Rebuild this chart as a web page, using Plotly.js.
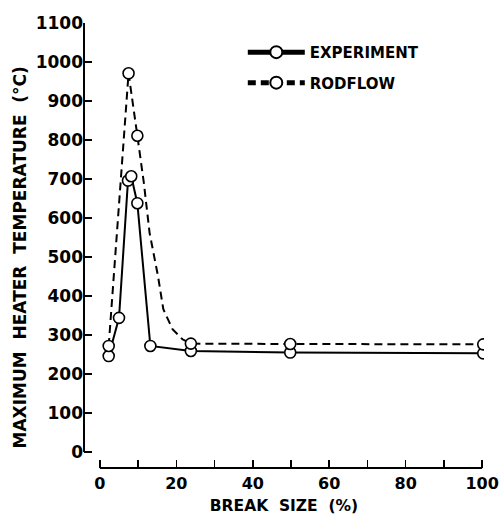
<!DOCTYPE html>
<html>
<head>
<meta charset="utf-8">
<script src="https://cdn.plot.ly/plotly-3.0.1.min.js"></script>
<style>html,body{margin:0;padding:0;background:#fff;}#chart{width:499px;height:515px;}</style>
</head>
<body>
<div id="chart"></div>
<script>
// Experiment: break size (%) vs maximum heater temperature (°C)
var expBreak = [2.3, 5.0, 7.35, 8.2, 9.8, 13.2, 23.8, 49.8, 100.3];
var expTemp  = [246, 344, 696, 707, 638, 272, 259, 255, 253];

// RODFLOW calculation: plotted (circled) points
var rodBreak = [2.3, 7.5, 9.8, 23.8, 49.8, 100.3];
var rodTemp  = [272, 971, 811, 278, 277, 276];

// RODFLOW dashed curve between circled points
var rodCurveBreak = [11.5, 13.0, 15.2, 16.6, 19.0, 21.6];
var rodCurveTemp  = [690, 562, 451, 366, 315, 289];

var xTickVals = [0, 10, 20, 30, 40, 50, 60, 70, 80, 90, 100];
var xTickText = ['0', '', '20', '', '40', '', '60', '', '80', '', '100'];
var yTickVals = [0, 100, 200, 300, 400, 500, 600, 700, 800, 900, 1000, 1100];
var yTickText = ['0', '100', '200', '300', '400', '500', '600', '700', '800', '900', '1000', '1100'];

// merge RODFLOW circle points with curve points (markers only on circles)
var rodPts = [];
rodBreak.forEach(function (x, i) { rodPts.push({x: x, y: rodTemp[i], m: 11}); });
rodCurveBreak.forEach(function (x, i) { rodPts.push({x: x, y: rodCurveTemp[i], m: 0}); });
rodPts.sort(function (a, b) { return a.x - b.x; });

var FONT = 'DejaVu Sans, Arial, sans-serif';
var NB = '\u00a0';

var traces = [
  {
    x: expBreak, y: expTemp, name: 'EXPERIMENT', mode: 'lines+markers',
    legendgroup: 'a',
    line: {color: '#000', width: 2},
    marker: {symbol: 'circle', size: 11, color: '#fff', opacity: 1, line: {color: '#000', width: 1.6}}
  },
  {
    x: rodPts.map(function (p) { return p.x; }),
    y: rodPts.map(function (p) { return p.y; }),
    name: 'RODFLOW', mode: 'lines+markers',
    legendgroup: 'b',
    line: {color: '#000', width: 2, dash: '8px,5px'},
    marker: {symbol: 'circle', size: rodPts.map(function (p) { return p.m; }), color: '#fff', opacity: 1,
             line: {color: '#000', width: 1.6}}
  }
];

var layout = {
  width: 499, height: 515,
  margin: {l: 84, r: 15, t: 23, b: 47},
  paper_bgcolor: '#fff', plot_bgcolor: '#fff',
  font: {family: FONT, color: '#000'},
  showlegend: true,
  legend: {
    x: 0.397, y: 0.971, xanchor: 'left', yanchor: 'top',
    font: {family: FONT, size: 15, weight: 'bold', color: '#000'},
    bgcolor: 'rgba(0,0,0,0)', itemsizing: 'constant', itemwidth: 57,
    traceorder: 'grouped', tracegroupgap: 8
  },
  xaxis: {
    range: [-4.16, 100.5], tickmode: 'array', tickvals: xTickVals, ticktext: xTickText,
    ticks: 'inside', ticklen: 8, tickwidth: 1.5, tickcolor: '#000',
    showline: false, showgrid: false, zeroline: false,
    ticklabelstandoff: 4,
    tickfont: {family: FONT, size: 16, weight: 'bold', color: '#000'},
    title: {text: 'BREAK' + NB + ' SIZE' + NB + ' (%)', font: {family: FONT, size: 15.5, weight: 'bold', color: '#000'}, standoff: 9}
  },
  yaxis: {
    range: [-41, 1100], tickmode: 'array', tickvals: yTickVals, ticktext: yTickText,
    ticks: 'inside', ticklen: 8, tickwidth: 1.5, tickcolor: '#000',
    showline: false, showgrid: false, zeroline: false,
    tickfont: {family: FONT, size: 17, weight: 'bold', color: '#000'},
    title: {text: 'MAXIMUM' + NB + ' HEATER' + NB + ' TEMPERATURE' + NB + ' (\u00b0C)' + NB + NB + NB + NB + '\u200b',
            font: {family: FONT, size: 17, weight: 'bold', color: '#000'}, standoff: 4}
  },
  shapes: [
    {type: 'line', xref: 'x', yref: 'paper', x0: 0, x1: 100, y0: 0, y1: 0, line: {color: '#000', width: 2}},
    {type: 'line', xref: 'paper', yref: 'y', x0: 0, x1: 0, y0: 0, y1: 1100, line: {color: '#000', width: 2}}
  ]
};

Plotly.newPlot('chart', traces, layout, {displayModeBar: false, staticPlot: true});
</script>
</body>
</html>
